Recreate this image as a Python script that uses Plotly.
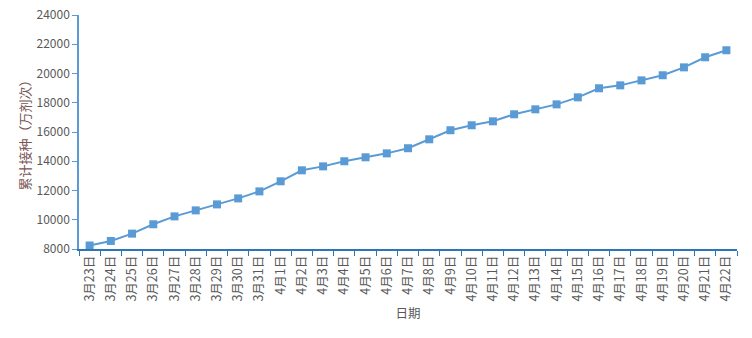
import plotly.graph_objects as go

dates = ["3月23日", "3月24日", "3月25日", "3月26日", "3月27日", "3月28日", "3月29日", "3月30日", "3月31日",
         "4月1日", "4月2日", "4月3日", "4月4日", "4月5日", "4月6日", "4月7日", "4月8日", "4月9日", "4月10日",
         "4月11日", "4月12日", "4月13日", "4月14日", "4月15日", "4月16日", "4月17日", "4月18日", "4月19日",
         "4月20日", "4月21日", "4月22日"]
cumulative = [8240, 8550, 9050, 9690, 10230, 10640, 11050, 11460, 11940,
              12630, 13380, 13650, 14000, 14270, 14540, 14890, 15500, 16120, 16460,
              16730, 17210, 17550, 17890, 18370, 18990, 19190, 19530, 19880,
              20420, 21110, 21590]

fig = go.Figure(go.Scatter(
    x=dates, y=cumulative, mode="lines+markers",
    line=dict(color="#5B9BD5", width=2),
    marker=dict(symbol="square", size=8, color="#5B9BD5"),
))

font = "Noto Sans CJK SC"
fig.update_layout(
    width=752, height=338,
    margin=dict(l=79, r=15, t=15, b=89),
    paper_bgcolor="white", plot_bgcolor="white",
    showlegend=False,
    font=dict(family=font, color="#595959", size=12),
)
fig.update_xaxes(
    type="category", tickangle=-90, tickson="boundaries",
    range=[-0.5, len(dates) - 0.5], automargin=False,
    showline=True, linecolor="#2E75B6", linewidth=1.5,
    ticks="outside", ticklen=5, tickcolor="#2E75B6",
    showgrid=False, tickfont=dict(size=12.5, family=font, color="#595959"),
    title=dict(text="日期", font=dict(size=12.5, color="#595959"), standoff=9),
)
fig.update_yaxes(
    range=[8000, 24000], dtick=2000, tickformat="d", automargin=False,
    showline=True, linecolor="#5B9BD5", linewidth=1.5,
    ticks="outside", ticklen=5, tickcolor="#5B9BD5",
    showgrid=False, zeroline=False,
    tickfont=dict(size=12, family=font, color="#595959"),
    title=dict(text="累计接种（万剂次）", font=dict(size=13, color="#7A5555"), standoff=3),
)
fig.write_html("out.html")
